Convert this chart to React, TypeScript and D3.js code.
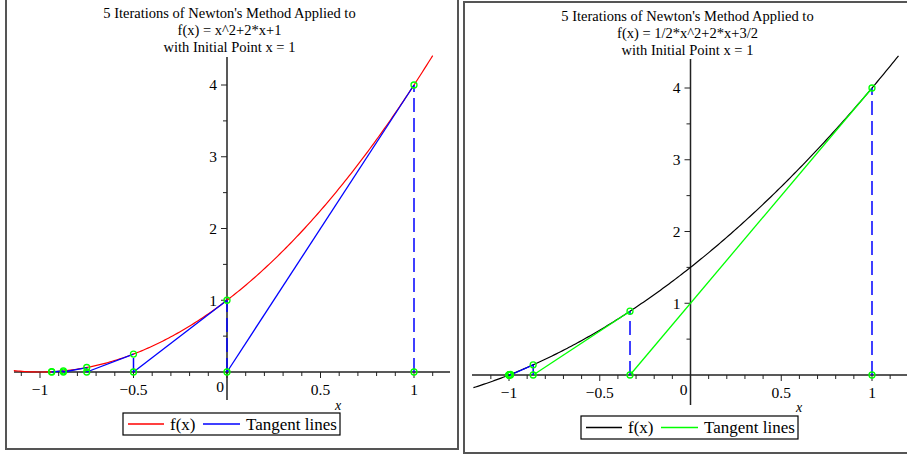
import React from 'react';
import * as d3 from 'd3';

// polynomial coefficients [c0, c1, c2] for each panel's f(x)
const leftCoeffs = [1, 2, 1];
const rightCoeffs = [1.5, 2, 0.5];

// Newton iterates
const leftIterX = [1, 0, -0.5, -0.75, -0.875, -0.9375];
const leftIterY = [4, 1, 0.25, 0.0625, 0.0156, 0.0039];
const rightIterX = [1, -0.3333, -0.8667, -0.9922, -1.0, -1.0];
const rightIterY = [4, 0.8889, 0.1422, 0.0078, 0, 0];

const xTickLabels = [-1, -0.5, 0.5, 1];
const yTickLabels = [1, 2, 3, 4];

const titleLine1 = "5 Iterations of Newton's Method Applied to";
const leftTitle2 = 'f(x) = x^2+2*x+1';
const rightTitle2 = 'f(x) = 1/2*x^2+2*x+3/2';
const titleLine3 = 'with Initial Point x = 1';
const legendLabels = ['f(x)', 'Tangent lines'];

const FONT = '"Liberation Serif", "Times New Roman", serif';

type PanelProps = {
  box: [number, number, number, number];
  xRange: [number, number];
  yRange: [number, number];
  curveDomain: [number, number];
  xAxisExtent: [number, number];
  yAxisExtent: [number, number];
  coeffs: number[];
  iterX: number[];
  iterY: number[];
  title2: string;
  titleX: number;
  titleY: number;
  curveColor: string;
  tangentColors: string[];
  legendBox: [number, number, number, number];
  xLabelPos: [number, number];
};

const Panel = (p: PanelProps) => {
  const x = d3.scaleLinear().domain([-1, 1]).range(p.xRange);
  const y = d3.scaleLinear().domain([0, 4]).range(p.yRange);
  const f = (v: number) => p.coeffs[0] + p.coeffs[1] * v + p.coeffs[2] * v * v;

  const samples = d3.range(0, 201).map(i => p.curveDomain[0] + (p.curveDomain[1] - p.curveDomain[0]) * i / 200);
  const line = d3.line<number>().x(v => x(v)).y(v => y(f(v)));

  const x0 = x(0);
  const y0 = y(0);
  const minorX = d3.range(-11, 12).map(i => i / 10).filter(v => x(v) > p.xAxisExtent[0] && x(v) < p.xAxisExtent[1]);
  const minorY = d3.range(1, 9).map(i => i / 2);

  const [lx, ly, lw, lh] = p.legendBox;
  const n = p.iterX.length;

  return (
    <g>
      <rect x={p.box[0]} y={p.box[1]} width={p.box[2]} height={p.box[3]} fill="white" stroke="#555" strokeWidth={2} />
      <g fontFamily={FONT} fontSize={14.5} textAnchor="middle" fill="#000">
        <text x={p.titleX} y={p.titleY}>{titleLine1}</text>
        <text x={p.titleX} y={p.titleY + 17}>{p.title2}</text>
        <text x={p.titleX} y={p.titleY + 34}>{titleLine3}</text>
      </g>

      {/* axes */}
      <line x1={p.xAxisExtent[0]} x2={p.xAxisExtent[1]} y1={y0} y2={y0} stroke="#222" strokeWidth={1.5} />
      <line x1={x0} x2={x0} y1={p.yAxisExtent[0]} y2={p.yAxisExtent[1]} stroke="#222" strokeWidth={1.5} />
      {minorX.map(v => {
        const major = Math.abs(v * 2 - Math.round(v * 2)) < 1e-6;
        return <line key={'mx' + v} x1={x(v)} x2={x(v)} y1={y0} y2={y0 + (major ? 6 : 4)} stroke="#222" strokeWidth={1} />;
      })}
      {minorY.map(v => {
        const major = Number.isInteger(v);
        return <line key={'my' + v} x1={x0 - (major ? 6 : 4)} x2={x0} y1={y(v)} y2={y(v)} stroke="#222" strokeWidth={1} />;
      })}
      <g fontFamily={FONT} fontSize={15.5} fill="#000">
        {xTickLabels.map(v => (
          <text key={'xl' + v} x={x(v)} y={y0 + 23} textAnchor="middle">{v < 0 ? '\u2212' + Math.abs(v) : String(v)}</text>
        ))}
        <text x={x0 - 7} y={y0 + 20} textAnchor="middle">0</text>
        {yTickLabels.map(v => (
          <text key={'yl' + v} x={x0 - 10} y={y(v)} dy="0.35em" textAnchor="end">{v}</text>
        ))}
        <text x={p.xLabelPos[0]} y={p.xLabelPos[1]} fontStyle="italic" fontSize={14} textAnchor="middle">x</text>
      </g>

      {/* function curve */}
      <path d={line(samples) || ''} fill="none" stroke={p.curveColor} strokeWidth={1.2} />

      {/* tangent lines */}
      {p.iterX.slice(0, n - 1).map((xv, i) => (
        <line key={'t' + i} x1={x(xv)} y1={y(p.iterY[i])} x2={x(p.iterX[i + 1])} y2={y0}
          stroke={p.tangentColors[i] || p.tangentColors[p.tangentColors.length - 1]} strokeWidth={1.3} />
      ))}
      {/* vertical dashed lines */}
      {p.iterX.map((xv, i) => (
        <line key={'v' + i} x1={x(xv)} y1={y0} x2={x(xv)} y2={y(p.iterY[i])} stroke="#0000ff" strokeWidth={1.5} strokeDasharray="14,6" />
      ))}
      {/* points */}
      {p.iterX.map((xv, i) => (
        <g key={'p' + i}>
          <circle cx={x(xv)} cy={y(p.iterY[i])} r={3} fill="none" stroke="#00ff00" strokeWidth={1.3} />
          <circle cx={x(xv)} cy={y0} r={3} fill="none" stroke="#00ff00" strokeWidth={1.3} />
        </g>
      ))}

      {/* legend */}
      <rect x={lx} y={ly} width={lw} height={lh} fill="white" stroke="#000" strokeWidth={1.2} />
      <line x1={lx + 5} x2={lx + 41} y1={ly + lh / 2} y2={ly + lh / 2} stroke={p.curveColor} strokeWidth={1.3} />
      <line x1={lx + 80} x2={lx + 117} y1={ly + lh / 2} y2={ly + lh / 2} stroke={p.tangentColors[0]} strokeWidth={1.5} />
      <g fontFamily={FONT} fontSize={17} fill="#000">
        <text x={lx + 47} y={ly + lh / 2} dy="0.35em">{legendLabels[0]}</text>
        <text x={lx + 123} y={ly + lh / 2} dy="0.35em">{legendLabels[1]}</text>
      </g>
    </g>
  );
};

export default function App() {
  return (
    <svg width={907} height={457} style={{ position: 'absolute', left: 0, top: 0, background: 'white' }}>
      <Panel
        box={[6, -3, 452, 452]}
        xRange={[40, 414]}
        yRange={[372, 85]}
        curveDomain={[-1.14, 1.1]}
        xAxisExtent={[14, 450]}
        yAxisExtent={[57, 400]}
        coeffs={leftCoeffs}
        iterX={leftIterX}
        iterY={leftIterY}
        title2={leftTitle2}
        titleX={229.5}
        titleY={18}
        curveColor="#ff0000"
        tangentColors={['#0000ff']}
        legendBox={[123, 413, 217, 22]}
        xLabelPos={[338, 410]}
      />
      <Panel
        box={[464, 2, 450, 451]}
        xRange={[509, 872]}
        yRange={[375, 88]}
        curveDomain={[-1.196, 1.146]}
        xAxisExtent={[472, 910]}
        yAxisExtent={[59, 405]}
        coeffs={rightCoeffs}
        iterX={rightIterX}
        iterY={rightIterY}
        title2={rightTitle2}
        titleX={687.5}
        titleY={21}
        curveColor="#000000"
        tangentColors={['#00ff00', '#00ff00', '#0000ff']}
        legendBox={[581, 416, 217, 23]}
        xLabelPos={[799, 412]}
      />
    </svg>
  );
}
